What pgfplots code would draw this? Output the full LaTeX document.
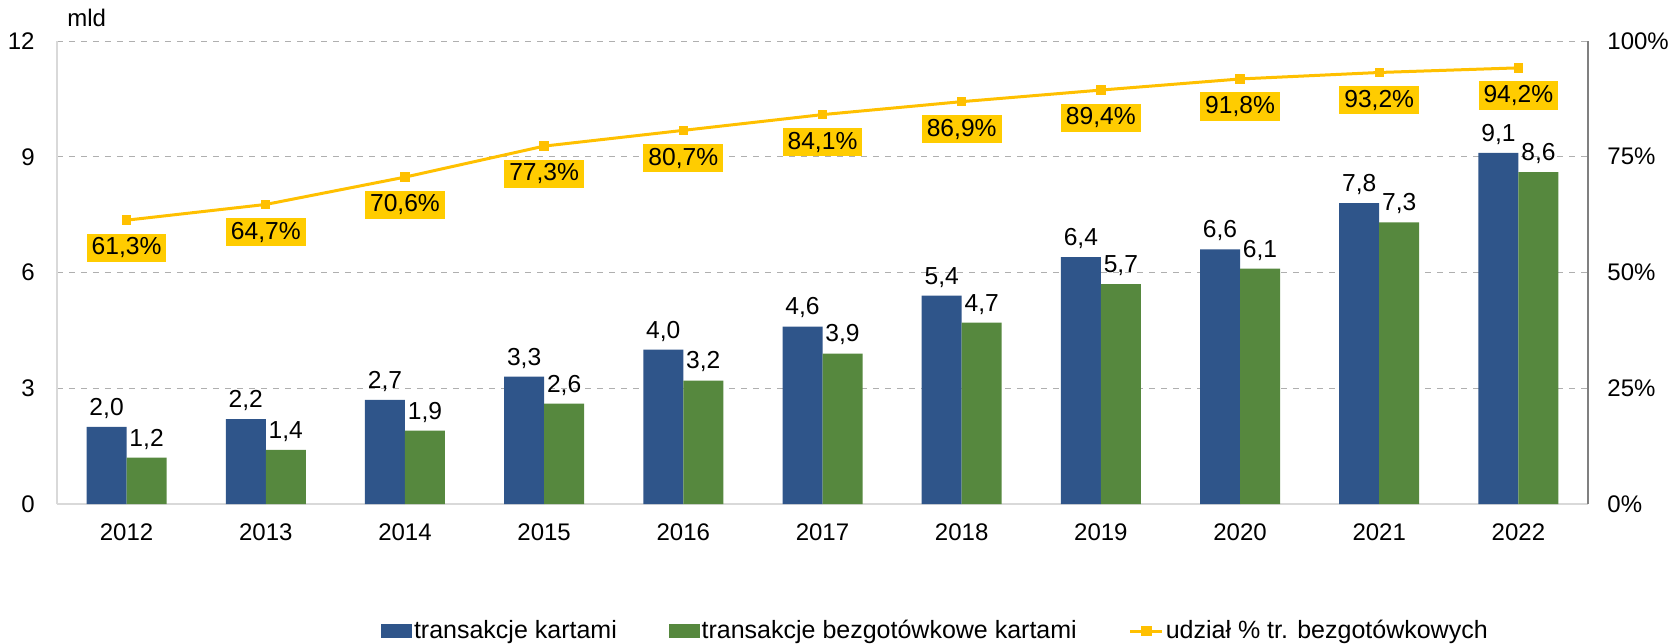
\documentclass[border=0pt]{standalone}
\usepackage{pgfplots}
\pgfplotsset{compat=1.18}
\usepackage{fontspec}
\setmainfont{Liberation Sans}
\definecolor{cblue}{RGB}{47,85,138}
\definecolor{cgreen}{RGB}{86,136,62}
\definecolor{cline}{RGB}{255,192,0}
\definecolor{cbox}{RGB}{255,204,0}
\definecolor{cgrid}{RGB}{175,175,175}
\definecolor{caxis}{RGB}{217,217,217}
\begin{document}
\fontsize{12}{14}\selectfont
\begin{tikzpicture}[font=\fontsize{12}{14}\selectfont]
\begin{axis}[
  width=765.5pt, height=231.5pt, scale only axis,
  /pgf/number format/assume math mode=true,
  xmin=-0.5, xmax=10.5, ymin=0, ymax=12,
  ytick={0,3,6,9,12},
  xtick={0,...,10},
  xticklabels={2012,2013,2014,2015,2016,2017,2018,2019,2020,2021,2022},
  axis x line*=bottom, axis y line*=left,
  axis line style={caxis, line width=0.8pt},
  major tick length=0pt,
  ymajorgrids, grid style={cgrid, dashed, line width=0.5pt},
  yticklabel style={xshift=-7pt},
  xticklabel style={yshift=-5.5pt},
  ybar, bar width=20pt,
  nodes near coords={\pgfmathprintnumber[fixed, fixed zerofill, precision=1, use comma, assume math mode=true]{\pgfplotspointmeta}},
  every node near coord/.append style={font=\fontsize{12.3}{14}\selectfont, text=black},
]
\addplot[fill=cblue, draw=none, bar shift=-10pt] coordinates {(0,2.0) (1,2.2) (2,2.7) (3,3.3) (4,4.0) (5,4.6) (6,5.4) (7,6.4) (8,6.6) (9,7.8) (10,9.1)};
\addplot[fill=cgreen, draw=none, bar shift=10pt] coordinates {(0,1.2) (1,1.4) (2,1.9) (3,2.6) (4,3.2) (5,3.9) (6,4.7) (7,5.7) (8,6.1) (9,7.3) (10,8.6)};
\end{axis}
\node[anchor=west] at ([xshift=1pt, yshift=11.5pt]current axis.north west) {mld};
\begin{axis}[
  width=765.5pt, height=231.5pt, scale only axis,
  /pgf/number format/assume math mode=true,
  xmin=-0.5, xmax=10.5, ymin=0, ymax=100,
  axis x line=none, axis y line*=right,
  axis line style={gray, line width=0.8pt},
  major tick length=0pt,
  ytick={0,25,50,75,100},
  yticklabel={\pgfmathprintnumber{\tick}\%},
  yticklabel style={xshift=5.5pt},
  legend columns=3,
  legend style={draw=none, inner sep=0pt, at={(0.2115,-0.2743)}, anchor=west, font=\fontsize{12.5}{14}\selectfont,
    nodes={inner xsep=1pt, inner ysep=2pt},
    /tikz/every even column/.append style={column sep=25pt}},
]
\addlegendimage{legend image code/.code={\fill[cblue] (0pt,-3.2pt) rectangle (15pt,3.2pt);}}
\addlegendentry{transakcje kartami}
\addlegendimage{legend image code/.code={\fill[cgreen] (0pt,-3.2pt) rectangle (15pt,3.2pt);}}
\addlegendentry{transakcje bezgotówkowe kartami}
\addplot[cline, line width=1.5pt, mark=square*, mark size=1.6pt, mark options={solid, fill=cline},
  legend image code/.code={\draw[cline, line width=1.5pt] (0pt,0pt) -- (16pt,0pt); \fill[cline] (6pt,-1.6pt) rectangle (10pt,1.6pt);},
  nodes near coords={\pgfmathprintnumber[fixed, fixed zerofill, precision=1, use comma, assume math mode=true]{\pgfplotspointmeta}\%},
  every node near coord/.append style={anchor=north, fill=cbox, text=black, inner xsep=2.5pt, inner ysep=2pt, yshift=-6pt, font=\fontsize{12.3}{14}\selectfont}]
  coordinates {(0,61.3) (1,64.7) (2,70.6) (3,77.3) (4,80.7) (5,84.1) (6,86.9) (7,89.4) (8,91.8) (9,93.2) (10,94.2)};
\addlegendentry{udział \% tr. bezgotówkowych}
\end{axis}
\pgfresetboundingbox
\path[use as bounding box] ([xshift=-28.5pt,yshift=-69.5pt]current axis.south west) rectangle ([xshift=44.5pt,yshift=20.5pt]current axis.north east);
\end{tikzpicture}
\end{document}
